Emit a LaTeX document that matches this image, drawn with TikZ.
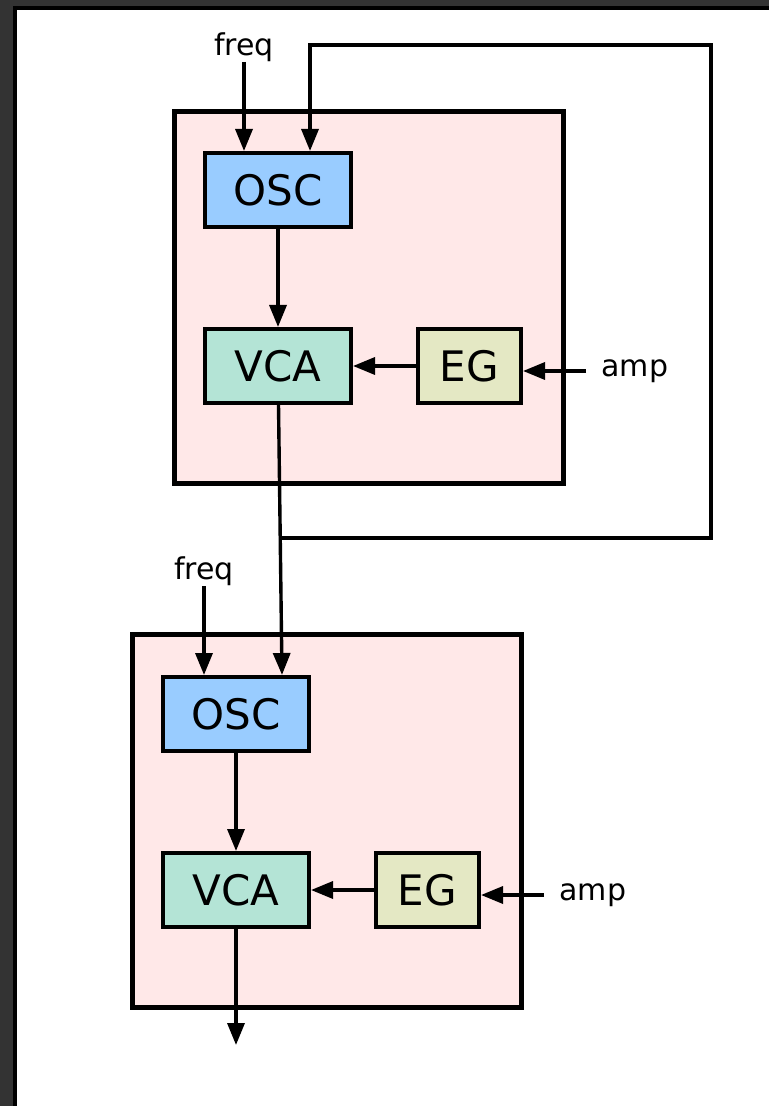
\documentclass[tikz,border=0pt]{standalone}
\usepackage{fontspec}
\setmainfont{DejaVu Sans}
\usetikzlibrary{arrows.meta,positioning,fit,calc}
\definecolor{framegray}{RGB}{51,51,51}
\definecolor{oscblue}{RGB}{153,204,255}
\definecolor{vcagreen}{RGB}{180,228,214}
\definecolor{egolive}{RGB}{228,232,196}
\definecolor{grouppink}{RGB}{255,232,232}

\begin{document}
\begin{tikzpicture}[
  x=0.5pt, y=-0.5pt,
  every node/.style={font=\fontsize{15}{18}\selectfont},
  group/.style={draw=black, line width=2.5pt, fill=grouppink, inner sep=0pt},
  module/.style={draw=black, line width=1.8pt, minimum height=37.2pt, font=\fontsize{21}{25}\selectfont},
  oscbox/.style={module, fill=oscblue, minimum width=73.2pt},
  vcabox/.style={module, fill=vcagreen, minimum width=73.2pt},
  egbox/.style={module, fill=egolive, minimum width=51.7pt},
  lbl/.style={inner sep=0pt},
  sig/.style={-{Triangle[length=11pt,width=8.5pt]}, line width=1.7pt, line join=miter}
]
\useasboundingbox (0,0) rectangle (769,1106);
% screen frame
\fill[white] (0,0) rectangle (769,1106);
\fill[framegray] (0,0) rectangle (769,6);
\fill[framegray] (0,0) rectangle (13,1106);
\fill[black] (13,6) rectangle (769,10);
\fill[black] (13,6) rectangle (17,1106);

% voice 1
\node[group, fit={(174.5,111.5) (563.5,483.5)}] (voice1) {};
\node[oscbox] (osc1) at (278,190) {OSC};
\node[vcabox, below=49pt of osc1] (vca1) {VCA};
\node[egbox, right=31.5pt of vca1] (eg1) {EG};
\node[lbl, above=44.5pt of osc1.north, xshift=-17pt] (freq1) {freq};
\node[lbl, inner xsep=7.5pt, right=31.5pt of eg1, yshift=-2.5pt] (amp1) {amp};

% voice 2
\node[group, fit={(132.5,634.5) (521.5,1007.5)}] (voice2) {};
\node[oscbox] (osc2) at (236,714) {OSC};
\node[vcabox, below=49pt of osc2] (vca2) {VCA};
\node[egbox, right=31.5pt of vca2] (eg2) {EG};
\node[lbl, above=44.5pt of osc2.north, xshift=-16pt] (freq2) {freq};
\node[lbl, inner xsep=7.5pt, right=31.5pt of eg2, yshift=-2.5pt] (amp2) {amp};

\coordinate (osc2in) at ([xshift=23pt]osc2.north);
\coordinate (tap) at ($(vca1.south)!0.493!(osc2in)$);
\coordinate (fbtop) at (711,45);
\coordinate[below=58pt of vca2] (out2);

% signal flow
\draw[sig] (freq1) -- (freq1 |- osc1.north);
\draw[sig] (osc1) -- (vca1);
\draw[sig] (eg1) -- (vca1);
\draw[sig] (amp1) -- (amp1.west -| eg1.east);
\draw[sig] (vca1) -- (osc2in);
\draw[sig] (tap) -| (fbtop) -| ([xshift=16pt]osc1.north);

\draw[sig] (freq2) -- (freq2 |- osc2.north);
\draw[sig] (osc2) -- (vca2);
\draw[sig] (eg2) -- (vca2);
\draw[sig] (amp2) -- (amp2.west -| eg2.east);
\draw[sig] (vca2) -- (out2);
\end{tikzpicture}
\end{document}
